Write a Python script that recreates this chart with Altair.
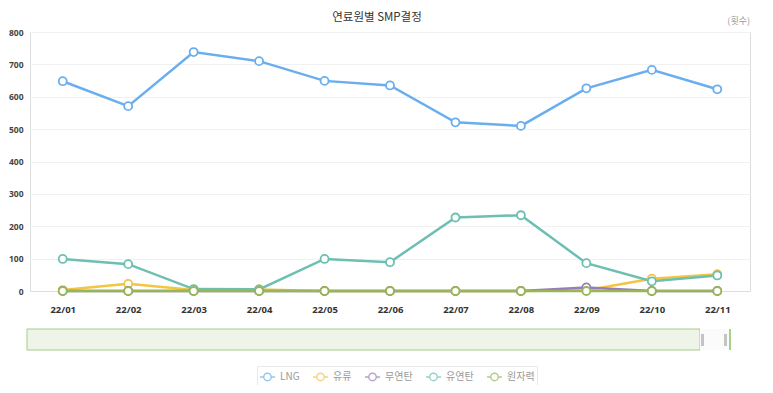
import altair as alt
import pandas as pd

months = ["22/01", "22/02", "22/03", "22/04", "22/05", "22/06", "22/07", "22/08", "22/09", "22/10", "22/11"]
series_names = ["LNG", "유류", "무연탄", "유연탄", "원자력"]
lng = [648, 571, 738, 710, 649, 635, 521, 510, 626, 683, 623]
oil = [3, 22, 3, 5, 0, 0, 0, 0, 2, 38, 52]
anthracite = [0, 0, 0, 0, 0, 0, 0, 0, 11, 0, 0]
bituminous = [99, 83, 6, 5, 99, 89, 227, 234, 86, 30, 48]
nuclear = [0, 0, 0, 0, 0, 0, 0, 0, 0, 0, 0]
colors = ["#6aaeee", "#f4c443", "#9a7ab8", "#6cbfb1", "#97b658"]

values = [lng, oil, anthracite, bituminous, nuclear]
rows = []
for name, vals in zip(series_names, values):
    for m, v in zip(months, vals):
        rows.append({"month": m, "series": name, "value": v})
df = pd.DataFrame(rows)

FONT = "Noto Sans CJK KR"
NUMFONT = "Open Sans"
W, H = 720, 259

x_enc = alt.X("month:N", sort=months,
              scale=alt.Scale(type="point", padding=0.5),
              axis=alt.Axis(title=None, labelAngle=0, ticks=False, grid=False,
                            domainColor="#d9dde6", labelFontWeight="bold",
                            labelColor="#333333", labelFontSize=9.5, labelPadding=13,
                            labelFont=NUMFONT))
y_enc = alt.Y("value:Q", scale=alt.Scale(domain=[0, 800], nice=False),
              axis=alt.Axis(title=None, values=list(range(0, 801, 100)), ticks=False,
                            domain=False, gridColor="#f1f1f1", labelFontWeight="bold",
                            labelColor="#444444", labelFontSize=8.5, labelPadding=7,
                            labelFont=NUMFONT))

legend_path = "M-1,0L-0.5,0M0.5,0L1,0M-0.5,0A0.5,0.5,0,1,0,0.5,0A0.5,0.5,0,1,0,-0.5,0Z"
stroke_enc = alt.Stroke("series:N",
                        scale=alt.Scale(domain=series_names, range=colors),
                        legend=alt.Legend(title=None, orient="none", direction="horizontal",
                                          legendX=227, legendY=334,
                                          symbolType=legend_path, symbolSize=225,
                                          symbolStrokeWidth=1.4, symbolFillColor="white",
                                          symbolOpacity=0.7,
                                          labelFont=FONT, labelFontSize=10, labelColor="#999999",
                                          columnPadding=10, padding=2, strokeColor="#e8e8e8",
                                          labelOffset=4))

base = alt.Chart(df).encode(x=x_enc, y=y_enc, stroke=stroke_enc)
lines = base.mark_line(strokeWidth=2.5)
points = base.mark_point(shape="circle", size=64, fill="white", filled=True,
                         strokeWidth=1.8, opacity=1)

one = pd.DataFrame({"k": [0]})
title = alt.Chart(one).mark_text(text="연료원별 SMP결정", font=FONT, fontSize=11.5,
                                 color="#333333", align="center", baseline="middle").encode(
    x=alt.value(347), y=alt.value(-14))
unit = alt.Chart(one).mark_text(text="(횟수)", font=FONT, fontSize=9,
                                color="#9a9a9a", align="right", baseline="middle").encode(
    x=alt.value(720), y=alt.value(-11))

nav_bg = alt.Chart(one).mark_rect(fill="#eef4e8", stroke="#a6cc85", strokeWidth=1).encode(
    x=alt.value(-3), x2=alt.value(670), y=alt.value(297), y2=alt.value(318))
nav_win = alt.Chart(one).mark_rect(fill="#fbfbfb").encode(
    x=alt.value(670), x2=alt.value(700), y=alt.value(297), y2=alt.value(318))
nav_h1 = alt.Chart(one).mark_rect(fill="#c4c4c4").encode(
    x=alt.value(671), x2=alt.value(674), y=alt.value(302), y2=alt.value(314))
nav_h2 = alt.Chart(one).mark_rect(fill="#c4c4c4").encode(
    x=alt.value(694), x2=alt.value(697), y=alt.value(302), y2=alt.value(314))
nav_edge = alt.Chart(one).mark_rule(stroke="#8cc063", strokeWidth=1.5).encode(
    x=alt.value(700), y=alt.value(297), y2=alt.value(318))

chart = alt.layer(lines, points, title, unit, nav_bg, nav_win, nav_h1, nav_h2, nav_edge).properties(
    width=W, height=H,
    autosize=alt.AutoSizeParams(type="none"),
    padding={"left": 22, "top": 24, "right": 12, "bottom": 94},
).configure_view(stroke="#f0f0f0").configure(background="white")

chart.save("out.html", embed_options={"renderer": "svg", "actions": False})
